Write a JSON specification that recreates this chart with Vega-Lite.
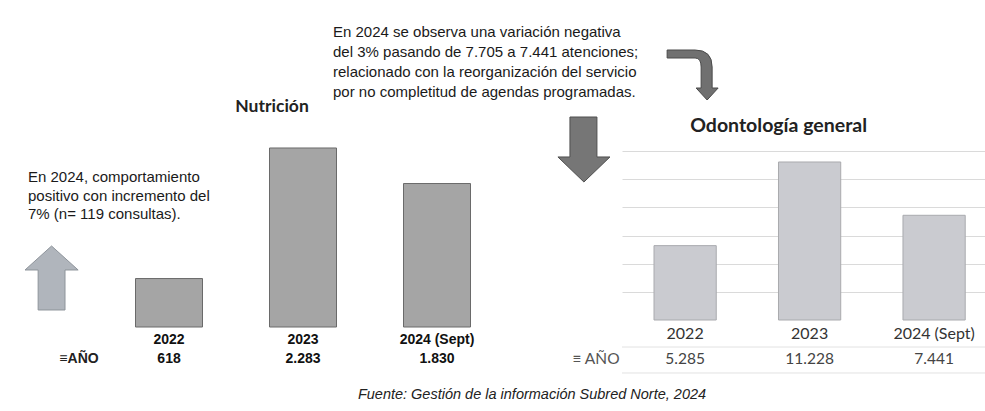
{
  "$schema": "https://vega.github.io/schema/vega-lite/v6.json",
  "background": "white",
  "padding": 0,
  "spacing": 0,
  "bounds": "flush",
  "config": {
    "view": {"stroke": null},
    "locale": {"number": {"decimal": ",", "thousands": ".", "grouping": [3], "currency": ["$", ""]}}
  },
  "hconcat": [
    {
      "width": 540,
      "height": 327,
      "layer": [
        {
          "data": {"values": [
            {"year": "2022", "value": 618},
            {"year": "2023", "value": 2283},
            {"year": "2024 (Sept)", "value": 1830}
          ]},
          "layer": [
            {
              "mark": {"type": "bar", "color": "#a5a5a5", "stroke": "#6a6a6a", "strokeWidth": 1},
              "encoding": {
                "x": {"field": "year", "type": "nominal",
                  "scale": {"domain": ["2022", "2023", "2024 (Sept)"], "paddingInner": 0.5, "paddingOuter": 0.765, "align": 0.661},
                  "axis": {"title": null, "labelAngle": 0, "ticks": false, "domain": false, "labelFont": "Liberation Sans", "labelFontSize": 14, "labelFontWeight": "bold", "labelColor": "#111", "labelPadding": 5}},
                "y": {"field": "value", "type": "quantitative", "scale": {"domain": [0, 4170.6], "nice": false, "zero": true}, "axis": null}
              }
            },
            {
              "mark": {"type": "text", "font": "Liberation Sans", "fontSize": 14, "fontWeight": "bold", "color": "#111", "baseline": "middle"},
              "encoding": {
                "x": {"field": "year", "type": "nominal"},
                "y": {"datum": -408, "type": "quantitative"},
                "text": {"field": "value", "type": "quantitative", "format": ",d"}
              }
            }
          ]
        },
        {
          "data": {"values": [{"label": "Nutrición"}]},
          "mark": {"type": "text", "font": "Lato", "fontSize": 17.5, "fontWeight": "bold", "color": "#222", "baseline": "middle", "dx": -31},
          "encoding": {"x": {"datum": "2023", "type": "nominal"}, "y": {"datum": 2806, "type": "quantitative"}, "text": {"field": "label"}}
        },
        {
          "data": {"values": [{"label": ["En  2024,  comportamiento", "positivo con incremento del", "7% (n= 119 consultas)."]}]},
          "mark": {"type": "text", "font": "Liberation Sans", "fontSize": 15, "color": "#1a1a1a", "align": "left", "baseline": "middle", "lineHeight": 18.5, "dx": -141},
          "encoding": {"x": {"datum": "2022", "type": "nominal"}, "y": {"datum": 1913, "type": "quantitative"}, "text": {"field": "label"}}
        },
        {
          "data": {"values": [{"label": ["En 2024 se observa una variación negativa", "del 3% pasando de 7.705 a 7.441 atenciones;", "relacionado con la reorganización del servicio", "por no completitud de agendas programadas."]}]},
          "mark": {"type": "text", "font": "Liberation Sans", "fontSize": 15, "color": "#1a1a1a", "align": "left", "baseline": "middle", "lineHeight": 20, "dx": 30},
          "encoding": {"x": {"datum": "2023", "type": "nominal"}, "y": {"datum": 3762, "type": "quantitative"}, "text": {"field": "label"}}
        },
        {
          "data": {"values": [{"label": "≡AÑO"}]},
          "mark": {"type": "text", "font": "Liberation Sans", "fontSize": 14, "fontWeight": "bold", "color": "#222", "baseline": "middle", "dx": -90},
          "encoding": {"x": {"datum": "2022", "type": "nominal"}, "y": {"datum": -408, "type": "quantitative"}, "text": {"field": "label"}}
        },
        {
          "data": {"values": [{"label": "Fuente: Gestión de la información Subred Norte, 2024"}]},
          "mark": {"type": "text", "font": "Liberation Sans", "fontSize": 14.5, "fontStyle": "italic", "color": "#222", "baseline": "middle", "dx": 95},
          "encoding": {"x": {"datum": "2024 (Sept)", "type": "nominal"}, "y": {"datum": -867, "type": "quantitative"}, "text": {"field": "label"}}
        },
        {
          "data": {"values": [{"label": "up"}]},
          "mark": {"type": "point", "shape": "M-3.67,-1 L-2.84,-0.25 L-3.25,-0.25 L-3.25,1 L-4.09,1 L-4.09,-0.25 L-4.5,-0.25 Z", "size": 4096, "filled": true, "color": "#b0b5bc", "stroke": "#8e949b", "strokeWidth": 1, "opacity": 1},
          "encoding": {"x": {"datum": "2022", "type": "nominal"}, "y": {"datum": 625, "type": "quantitative"}}
        }
      ]
    },
    {
      "width": 82,
      "height": 320,
      "data": {"values": [{"label": "≡ AÑO"}]},
      "layer": [
        {
          "mark": {"type": "point", "shape": "M-0.34,-1 L0.49,-1 L0.49,0.23 L0.89,0.23 L0.09,1 L-0.71,0.23 L-0.34,0.23 Z", "size": 4225, "filled": true, "color": "#767676", "stroke": "#4f4f4f", "strokeWidth": 1, "opacity": 1},
          "encoding": {"y": {"datum": 12116, "type": "quantitative", "scale": {"domain": [0, 22740], "nice": false}, "axis": null}}
        },
        {
          "mark": {"type": "text", "font": "Lato", "fontSize": 15.5, "color": "#555", "baseline": "middle", "dx": 15},
          "encoding": {"y": {"datum": -2771, "type": "quantitative"}, "text": {"field": "label"}}
        }
      ]
    },
    {
      "width": 363,
      "height": 320,
      "layer": [
        {
          "data": {"values": [
            {"year": "2022", "value": 5285},
            {"year": "2023", "value": 11228},
            {"year": "2024 (Sept)", "value": 7441}
          ]},
          "layer": [
            {
              "mark": {"type": "bar", "color": "#cacbd0", "stroke": "#a9aaae", "strokeWidth": 1},
              "encoding": {
                "x": {"field": "year", "type": "nominal",
                  "scale": {"domain": ["2022", "2023", "2024 (Sept)"], "paddingInner": 0.5, "paddingOuter": 0.208, "align": 0.618},
                  "axis": {"title": null, "labelAngle": 0, "ticks": false, "domain": false, "labelFont": "Lato", "labelFontSize": 16, "labelColor": "#333", "labelPadding": 5}},
                "y": {"field": "value", "type": "quantitative", "scale": {"domain": [0, 22740], "nice": false, "zero": true},
                  "axis": {"title": null, "labels": false, "ticks": false, "domain": false, "grid": true, "gridColor": "#dadada", "values": [2000, 4000, 6000, 8000, 10000, 12000]}}
              }
            },
            {
              "mark": {"type": "text", "font": "Lato", "fontSize": 15.5, "color": "#444", "baseline": "middle"},
              "encoding": {
                "x": {"field": "year", "type": "nominal"},
                "y": {"datum": -2771, "type": "quantitative"},
                "text": {"field": "value", "type": "quantitative", "format": ",d"}
              }
            }
          ]
        },
        {
          "data": {"values": [{"label": "Odontología general"}]},
          "mark": {"type": "text", "font": "Lato", "fontSize": 19.5, "fontWeight": "bold", "color": "#222", "baseline": "middle", "dx": -31},
          "encoding": {"x": {"datum": "2023", "type": "nominal"}, "y": {"datum": 13786, "type": "quantitative"}, "text": {"field": "label"}}
        },
        {
          "data": {"values": [{"line": "top"}]},
          "mark": {"type": "rule", "color": "#e2e2e2", "strokeWidth": 1},
          "encoding": {"y": {"datum": -1919, "type": "quantitative"}}
        },
        {
          "data": {"values": [{"line": "bottom"}]},
          "mark": {"type": "rule", "color": "#e2e2e2", "strokeWidth": 1},
          "encoding": {"y": {"datum": -3766, "type": "quantitative"}}
        },
        {
          "data": {"values": [{"label": "curve"}]},
          "mark": {"type": "point", "shape": "M-0.72,-1 L0.4,-1 Q1.08,-1 1.08,-0.32 L1.08,0.52 L1.32,0.52 L0.88,1 L0.44,0.52 L0.64,0.52 L0.64,-0.32 Q0.64,-0.68 0.4,-0.68 L-0.72,-0.68 Z", "size": 2500, "filled": true, "color": "#707070", "stroke": "#4a4a4a", "strokeWidth": 1, "opacity": 1},
          "encoding": {"x": {"datum": "2022", "type": "nominal"}, "y": {"datum": 17410, "type": "quantitative"}}
        }
      ]
    }
  ]
}
